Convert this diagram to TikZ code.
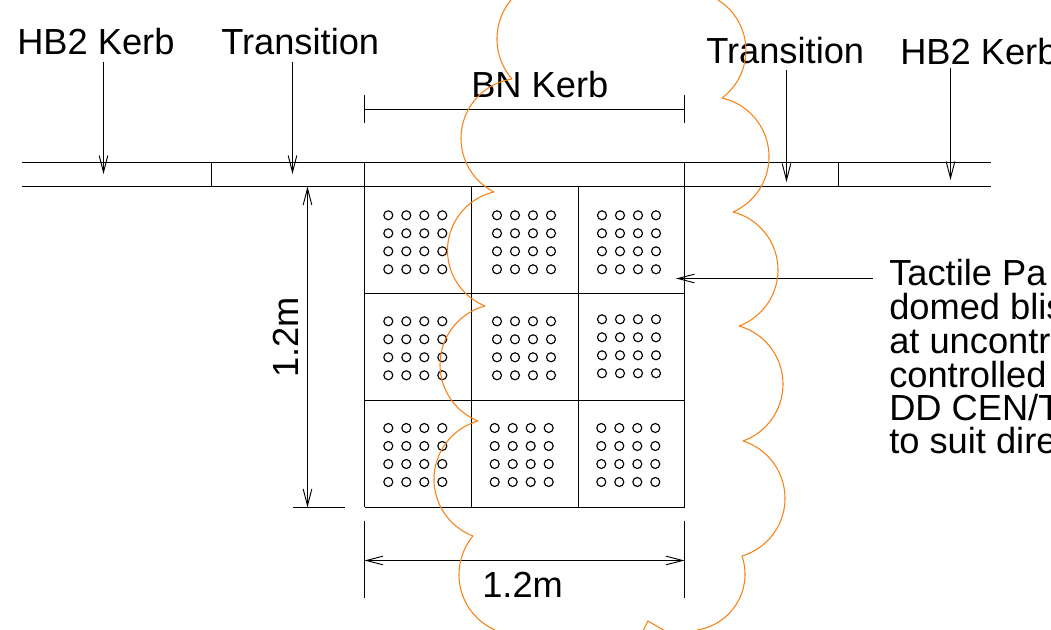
\documentclass[tikz,border=0pt]{standalone}
\usepackage{fontspec}
\setmainfont{Liberation Sans}
\usetikzlibrary{arrows.meta}
\definecolor{cloudorange}{RGB}{250,130,20}
\newcommand{\cloudarc}[6]{%
  \pgfmathsetmacro{\ax}{(#3-#1)/100}\pgfmathsetmacro{\ay}{(#4-#2)/100}%
  \pgfmathsetmacro{\bx}{(#5-#1)/100}\pgfmathsetmacro{\by}{(#6-#2)/100}%
  \pgfmathsetmacro{\dd}{2*(\ax*\by-\ay*\bx)}%
  \pgfmathsetmacro{\ux}{(\by*(\ax*\ax+\ay*\ay)-\ay*(\bx*\bx+\by*\by))/\dd}%
  \pgfmathsetmacro{\uy}{(\ax*(\bx*\bx+\by*\by)-\bx*(\ax*\ax+\ay*\ay))/\dd}%
  \pgfmathsetmacro{\rr}{100*sqrt(\ux*\ux+\uy*\uy)}%
  \pgfmathsetmacro{\cx}{#1+100*\ux}\pgfmathsetmacro{\cy}{#2+100*\uy}%
  \pgfmathsetmacro{\ts}{atan2(-\uy,-\ux)}%
  \pgfmathsetmacro{\tm}{atan2(\ay-\uy,\ax-\ux)}%
  \pgfmathsetmacro{\te}{atan2(\by-\uy,\bx-\ux)}%
  \pgfmathsetmacro{\dm}{Mod(\tm-\ts,360)}%
  \pgfmathsetmacro{\de}{Mod(\te-\ts,360)}%
  \pgfmathsetmacro{\sw}{\dm<\de ? \de : \de-360}%
  \draw[cloudline] plot[domain=0:1,samples=48,smooth] ({\cx+\rr*cos(\ts+\x*\sw)},{\cy+\rr*sin(\ts+\x*\sw)});%
}
\tikzset{
  x=0.75pt,y=-0.75pt,
  kerbline/.style={draw=black,line width=0.75pt},
  cloudline/.style={draw=cloudorange,line width=0.8pt},
  dimarrow/.style={draw=black,line width=0.75pt,{Straight Barb[length=12.5pt,width=6.5pt,line width=0.7pt]}-{Straight Barb[length=12.5pt,width=6.5pt,line width=0.7pt]}},
  leader/.style={draw=black,line width=0.75pt,-{Straight Barb[length=12.5pt,width=6.5pt,line width=0.7pt]}},
  lbl/.style={anchor=base west,inner sep=0pt,font=\fontsize{27.2pt}{27.2pt}\selectfont},
  stud/.style={draw=black,line width=0.85pt,fill=none},
}
\begin{document}
\begin{tikzpicture}
\path[use as bounding box] (0,0) rectangle (1051,630);
\clip (0,0) rectangle (1051,630);
\fill[white] (0,0) rectangle (1051,630);
% kerb lines
\coordinate (kl1) at (22,162.5); \coordinate (kr1) at (991,162.5);
\coordinate (kl2) at (22,186.5); \coordinate (kr2) at (991,186.5);
\draw[kerbline] (kl1)--(kr1);
\draw[kerbline] (kl2)--(kr2);
\foreach \xx/\yb in {211.5/186.5,364.5/507.5,684.5/507.5,838.5/186.5}
  \draw[kerbline] (\xx,162.5)--(\xx,\yb);
% grid
\foreach \xx in {471.5,578.5} \draw[kerbline] (\xx,186.5)--(\xx,507.5);
\foreach \yy in {293.5,400.5,507.5} \draw[kerbline] (364.5,\yy)--(684.5,\yy);
% studs: cell origins
\foreach \ox/\oy in {388.3/215.3,497/215.3,602/215.3,388.3/321.3,497/321.3,602/319.3,388.3/428,494.7/428,601.3/428}
  \foreach \i in {0,1,2,3}
    \foreach \j in {0,1,2,3}
      \draw[stud] ({\ox+18*\i},{\oy+18*\j}) circle[radius=4.5];
% BN dimension
\coordinate (bnl) at (364.5,109.5); \coordinate (bnr) at (684.5,109.5);
\draw[kerbline] (bnl)--(bnr);
\draw[kerbline] (364.5,95)--(364.5,123);
\draw[kerbline] (684.5,95)--(684.5,123);
% bottom dimension
\coordinate (dl) at (364.5,560.5); \coordinate (dr) at (684.5,560.5);
\draw[dimarrow] (dl)--(dr);
\draw[kerbline] (364.5,521)--(364.5,598);
\draw[kerbline] (684.5,521)--(684.5,598);
% left dimension
\coordinate (dt) at (307.5,186.5); \coordinate (db) at (307.5,507.5);
\draw[dimarrow] (dt)--(db);
\draw[kerbline] (293,507.5)--(345,507.5);
% labels
\node[lbl] (hbl) at (17,55) {HB2 Kerb};
\node[lbl] (trl) at (221,55) {Transition};
\node[lbl] (trr) at (706,63.5) {Transition};
\node[lbl] (hbr) at (900,65) {HB2 Kerb};
\node[lbl] (bn) at (471,98) {BN Kerb};
\node[lbl] (dimh) at (482,598) {1.2m};
\node[lbl,rotate=90] (dimv) at (298,378) {1.2m};
\node[lbl] (t1) at (889,285.5) {Tactile Pa};
\node[lbl] (t2) at (889,319.5) {domed blis};
\node[lbl] (t3) at (889,353.5) {at uncontr};
\node[lbl] (t4) at (889,387.5) {controlled};
\node[lbl] (t5) at (889,420.5) {DD CEN/T};
\node[lbl] (t6) at (889,453.5) {to suit dire};
% leaders
\coordinate (a1s) at (103.5,62); \coordinate (a1e) at (103.5,174);
\coordinate (a2s) at (292.5,62); \coordinate (a2e) at (292.5,174);
\coordinate (a3s) at (786.5,70); \coordinate (a3e) at (786.5,182);
\coordinate (a4s) at (950.5,68); \coordinate (a4e) at (950.5,180);
\coordinate (a5s) at (873,278.5); \coordinate (a5e) at (676,278.5);
\draw[leader] (a1s)--(a1e);
\draw[leader] (a2s)--(a2e);
\draw[leader] (a3s)--(a3e);
\draw[leader] (a4s)--(a4e);
\draw[leader] (a5s)--(a5e);
% cloud
\cloudarc{511}{0}{497}{38}{512}{79}
\cloudarc{512}{79}{461}{138}{494}{192}
\cloudarc{494}{192}{447.5}{250}{485}{306}
\cloudarc{485}{306}{440}{365}{478}{421}
\cloudarc{478}{421}{434}{478}{473}{536}
\cloudarc{473}{536}{459}{575}{495}{630}
\cloudarc{718}{0}{745}{40}{722}{98}
\cloudarc{722}{98}{769}{158}{733}{212}
\cloudarc{733}{212}{778}{270}{739}{326}
\cloudarc{739}{326}{783}{383}{743}{441}
\cloudarc{743}{441}{785}{498}{742}{556}
\cloudarc{742}{556}{745}{575}{697}{630}
\draw[cloudline] (643,631)--(648,621)--(665,631);
\end{tikzpicture}
\end{document}
